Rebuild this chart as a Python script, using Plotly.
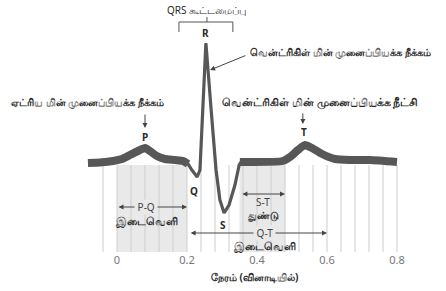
import plotly.graph_objects as go

# ECG trace (time in s, amplitude in arbitrary mV-like units)
p_wave_t = [-0.083, -0.049, -0.011, 0.014, 0.037, 0.06, 0.08, 0.094, 0.114, 0.137, 0.166, 0.189, 0.203]
p_wave_v = [-0.01, -0.005, 0.01, 0.03, 0.07, 0.11, 0.14, 0.11, 0.06, 0.03, 0.02, 0.01, -0.02]

qrs_t = [0.189, 0.203, 0.214, 0.229, 0.237, 0.254, 0.269, 0.283, 0.294, 0.306, 0.32, 0.337, 0.349, 0.354]
qrs_v = [0.01, -0.02, -0.08, -0.15, -0.08, 1.19, 0.52, -0.08, -0.38, -0.51, -0.43, -0.23, -0.03, 0.0]

t_wave_t = [0.351, 0.474, 0.494, 0.517, 0.537, 0.557, 0.586, 0.623, 0.666, 0.723, 0.8]
t_wave_v = [0.0, 0.01, 0.05, 0.12, 0.17, 0.14, 0.08, 0.03, 0.02, 0.02, 0.0]

tick_vals = [0, 0.2, 0.4, 0.6, 0.8]
tick_text = ["0", "0.2", "0.4", "0.6", "0.8"]

grid_x = [round(-0.04 + 0.04 * i, 2) for i in range(22)]

pq_interval = [0.0, 0.2]
st_segment = [0.35, 0.48]
qt_interval = [0.206, 0.6]

TRACE = "#575757"
TXT = "#2a2a2a"
FONT = "Noto Sans, DejaVu Sans, sans-serif"

fig = go.Figure()

# grid lines below baseline
gx, gy = [], []
for x in grid_x:
    gx += [x, x, None]
    gy += [-0.03, -0.9, None]
fig.add_trace(go.Scatter(x=gx, y=gy, mode="lines", line=dict(color="#cdcdcd", width=1),
                         hoverinfo="skip", showlegend=False))

fig.add_trace(go.Scatter(x=p_wave_t, y=p_wave_v, mode="lines",
                         line=dict(color=TRACE, width=8, shape="spline", smoothing=0.5),
                         showlegend=False))
fig.add_trace(go.Scatter(x=qrs_t, y=qrs_v, mode="lines",
                         line=dict(color=TRACE, width=3.2),
                         showlegend=False))
fig.add_trace(go.Scatter(x=t_wave_t, y=t_wave_v, mode="lines",
                         line=dict(color=TRACE, width=8, shape="spline", smoothing=0.5),
                         showlegend=False))

shapes = []
for (a, b) in [pq_interval, st_segment]:
    shapes.append(dict(type="rect", xref="x", yref="y", x0=a, x1=b, y0=-0.03, y1=-0.9,
                       fillcolor="#e9e9e9", line=dict(width=0), layer="below"))
# QRS bracket
shapes.append(dict(type="path", xref="x", yref="y",
                   path="M 0.177 1.30 L 0.177 1.40 L 0.331 1.40 L 0.331 1.30",
                   line=dict(color="#555", width=1)))
shapes.append(dict(type="line", xref="x", yref="y", x0=0.257, x1=0.257, y0=1.40, y1=1.45,
                   line=dict(color="#555", width=1)))

ann = []
def txt(x, y, s, size=10, bold=False, xanchor="center", bg=None, yref="y", color=TXT):
    d = dict(x=x, y=y, xref="x", yref=yref, text=("<b>%s</b>" % s) if bold else s,
             showarrow=False, xanchor=xanchor, yanchor="middle",
             font=dict(size=size, color=color, family=FONT))
    if bg:
        d["bgcolor"] = bg
        d["borderpad"] = 0
    ann.append(d)

def arrow(x, y, ax, ay, both=False, head=2):
    ann.append(dict(x=x, y=y, ax=ax, ay=ay, xref="x", yref="y", axref="x", ayref="y",
                    text="", showarrow=True, arrowhead=head, startarrowhead=head,
                    arrowsize=1, arrowwidth=1, arrowcolor="#444",
                    arrowside="end+start" if both else "end", standoff=0, startstandoff=0))

txt(0.257, 1.52, "QRS கூட்டமைப்பு", size=10)
txt(0.254, 1.29, "R", size=10, bold=True)
txt(0.374, 1.10, "வென்ட்ரிகிள் மின் முனைப்பியக்க நீக்கம்", size=10.4, bold=True, xanchor="left")
arrow(0.266, 0.92, 0.371, 1.07)

txt(-0.085, 0.60, "ஏட்ரிய மின் முனைப்பியக்க நீக்கம்", size=10.2, bold=True)
arrow(0.08, 0.34, 0.08, 0.49)
txt(0.08, 0.25, "P", size=10, bold=True)

txt(0.58, 0.60, "வென்ட்ரிகிள் மின் முனைப்பியக்க நீட்சி", size=10.8, bold=True)
arrow(0.531, 0.38, 0.531, 0.50)
txt(0.534, 0.30, "T", size=10, bold=True)

txt(0.22, -0.29, "Q", size=10, bold=True)
txt(0.303, -0.63, "S", size=10, bold=True)

arrow(pq_interval[1], -0.45, pq_interval[0], -0.45, both=True)
txt(0.083, -0.45, " P-Q ", size=10, bg="#e9e9e9", color="#444")
txt(0.083, -0.59, "இடைவெளி", size=10.5, bold=True)

arrow(st_segment[1], -0.32, st_segment[0] + 0.004, -0.32, both=True)
txt(0.417, -0.40, "S-T", size=10, color="#444")
txt(0.417, -0.53, "துண்டு", size=10, bold=True)

arrow(qt_interval[1], -0.71, qt_interval[0], -0.71, both=True)
txt(0.42, -0.71, " Q-T ", size=10, bg="#e9e9e9", color="#444")
txt(0.42, -0.84, "இடைவெளி", size=10.5, bold=True)

ann.append(dict(x=0.394, y=-0.10, xref="x", yref="paper", text="<b>நேரம் (வினாடியில்)</b>",
                showarrow=False, xanchor="center", yanchor="middle",
                font=dict(size=10, color=TXT, family=FONT)))

fig.update_layout(
    width=446, height=291,
    margin=dict(l=0, r=0, t=0, b=39),
    paper_bgcolor="white", plot_bgcolor="white",
    shapes=shapes, annotations=ann,
    xaxis=dict(range=[-0.3343, 0.94], showgrid=False, zeroline=False, showline=False,
               tickvals=tick_vals, ticktext=tick_text, ticks="",
               tickfont=dict(size=11, color="#777", family=FONT)),
    yaxis=dict(range=[-0.9, 1.62], showgrid=False, zeroline=False, showline=False,
               showticklabels=False),
)

fig.write_html("out.html", config={"displayModeBar": False},
               post_script="document.body.style.margin='0';")
